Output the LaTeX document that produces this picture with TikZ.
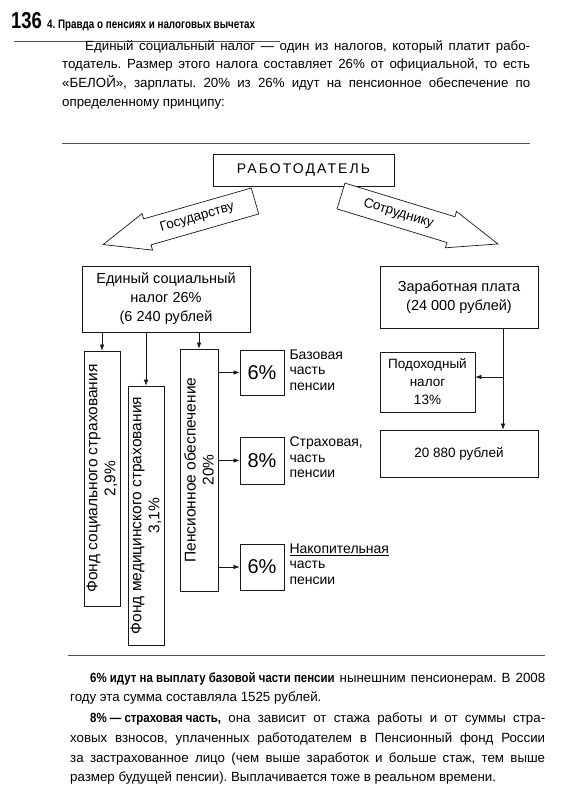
\documentclass[tikz,border=0pt]{standalone}
\usepackage{fontspec}
\setmainfont{Liberation Sans}
\usepackage{graphicx}
\usetikzlibrary{arrows.meta, positioning, calc}
\definecolor{ink}{RGB}{25,25,25}
\definecolor{rulegray}{RGB}{80,80,80}
\newcommand{\narrowbf}[2][0.8]{\scalebox{#1}[1]{\bfseries #2}}
\frenchspacing
\tikzset{
  box/.style={rectangle, draw=ink, line width=0.7pt, align=center,
    inner sep=0pt, font=\fontsize{14.5}{19}\selectfont},
  vbox/.style={box, rotate=90, font=\fontsize{15.5}{18}\selectfont},
  pctbox/.style={box, minimum width=44pt, font=\fontsize{20}{22}\selectfont},
  lbl/.style={align=left, inner sep=0pt, font=\fontsize{14}{15.5}\selectfont},
  para/.style={anchor=north west, inner sep=0pt, align=justify,
    font=\fontsize{13.3}{18.7}\selectfont},
  arrtext/.style={inner sep=0pt, font=\fontsize{13.5}{15}\selectfont},
  arrow/.style={-{Latex[length=6pt,width=4.5pt]}, line width=0.6pt, color=ink},
  blockarrow/.style={draw=ink, line width=0.7pt, fill=white},
  rule/.style={line width=0.8pt, color=rulegray}
}
\begin{document}
\begin{tikzpicture}[x=1pt, y=-1pt]
  \useasboundingbox (0,0) rectangle (580,800);
  \fill[white] (0,0) rectangle (580,800);

  % page head
  \node[anchor=base west, inner sep=0pt] (pgnum) at (11,29)
    {\fontsize{23}{23}\selectfont\narrowbf{136}};
  \node[anchor=base west, inner sep=0pt] (chap) at (47,29)
    {\fontsize{12.3}{14}\selectfont\narrowbf{4. Правда о пенсиях и налоговых вычетах}};
  \coordinate (hl) at (14,41);
  \coordinate (hr) at (280,41);
  \draw[rule, line width=0.6pt] (hl) -- (hr);

  % text above
  \node[para, text width=468pt] (intro) at (62,40)
    {\hspace*{23pt}Единый социальный налог — один из налогов, который платит рабо-\linebreak
     тодатель. Размер этого налога составляет 26\% от официальной, то есть\linebreak
     «БЕЛОЙ», зарплаты. 20\% из 26\% идут на пенсионное обеспечение по\linebreak
     определенному принципу:};
  \coordinate (t1) at (62,143);
  \coordinate (t2) at (530,143);
  \draw[rule] (t1) -- (t2);

  % employer and the two block arrows
  \node[box, minimum width=181pt, minimum height=32pt,
    font=\fontsize{14}{16}\selectfont\addfontfeatures{LetterSpace=15}] (boss) at (303.5,170) {РАБОТОДАТЕЛЬ};

  \begin{scope}[shift={(255,201)}, rotate=16]
    \draw[blockarrow] (0,13.5) -- (-112,13.5) -- (-112,19) -- (-158,0)
      -- (-112,-19) -- (-112,-13.5) -- (0,-13.5) -- cycle;
    \node[arrtext, transform shape] (state) at (-60,0) {Государству};
  \end{scope}
  \begin{scope}[shift={(341,196)}, rotate=-17]
    \draw[blockarrow] (0,13.5) -- (115,13.5) -- (115,19) -- (164,0)
      -- (115,-19) -- (115,-13.5) -- (0,-13.5) -- cycle;
    \node[arrtext, transform shape] (worker) at (60,0) {Сотруднику};
  \end{scope}

  % state side
  \node[box, minimum width=168pt, minimum height=66pt] (esn) at (166,299)
    {Единый социальный\\налог 26\%\\(6 240 рублей};
  \node[vbox, minimum width=255pt, minimum height=36pt] (fss) at (102,478.5)
    {Фонд социального страхования\\2,9\%};
  \node[vbox, minimum width=259pt, minimum height=36pt] (foms) at (146,515.5)
    {Фонд медицинского страхования\\3,1\%};
  \node[vbox, minimum width=242pt, minimum height=38pt] (pens) at (199,470)
    {Пенсионное обеспечение\\20\%};

  \node[pctbox, minimum height=45pt] (p1) at (262,372.5) {6\%};
  \node[pctbox, minimum height=47pt] (p2) at (262,460.5) {8\%};
  \node[pctbox, minimum height=46pt] (p3) at (262,567) {6\%};
  \node[lbl, right=5pt of p1.north east, anchor=north west] (p1lbl) {Базовая\\часть\\пенсии};
  \node[lbl, right=5pt of p2.north east, anchor=north west] (p2lbl) {Страховая,\\часть\\пенсии};
  \node[lbl, right=5pt of p3.north east, anchor=north west] (p3lbl) {\underline{Накопительная}\\часть\\пенсии};

  \draw[arrow] (esn.south -| fss.east) -- (fss.east);
  \draw[arrow] (esn.south -| foms.east) -- (foms.east);
  \draw[arrow] (esn.south -| pens.east) -- (pens.east);
  \draw[arrow] (pens.south |- p1) -- (p1);
  \draw[arrow] (pens.south |- p2) -- (p2);
  \draw[arrow] (pens.south |- p3) -- (p3);

  % worker side
  \node[box, minimum width=158pt, minimum height=62pt] (wage) at (459,297)
    {Заработная плата\\(24 000 рублей)};
  \node[box, minimum width=95pt, minimum height=60pt,
    font=\fontsize{13.5}{18}\selectfont] (tax) at (427.5,382) {Подоходный\\налог\\13\%};
  \node[box, minimum width=158pt, minimum height=47pt,
    font=\fontsize{13.5}{18}\selectfont] (net) at (459,453.5) {20 880 рублей};
  \coordinate (split) at (503,377);
  \draw[arrow] (wage.south -| split) -- (net.north -| split);
  \draw[arrow] (split) -- (tax.east |- split);

  \coordinate (b1) at (68,655);
  \coordinate (b2) at (545,655);
  \draw[rule] (b1) -- (b2);

  % text below
  \node[para, text width=475pt, font=\fontsize{13.3}{19.6}\selectfont] (outro) at (70,672)
    {\hspace*{20pt}\narrowbf[0.86]{6\% идут на выплату базовой части пенсии} нынешним пенсионерам. В~2008\linebreak
     году эта сумма составляла 1525 рублей.\par\vspace{1.5pt}
     \hspace*{20pt}\narrowbf[0.86]{8\% — страховая часть,} она зависит от стажа работы и от суммы стра-\linebreak
     ховых взносов, уплаченных работодателем в Пенсионный фонд России\linebreak
     за застрахованное лицо (чем выше заработок и больше стаж, тем выше\linebreak
     размер будущей пенсии). Выплачивается тоже в реальном времени.};
\end{tikzpicture}
\end{document}
